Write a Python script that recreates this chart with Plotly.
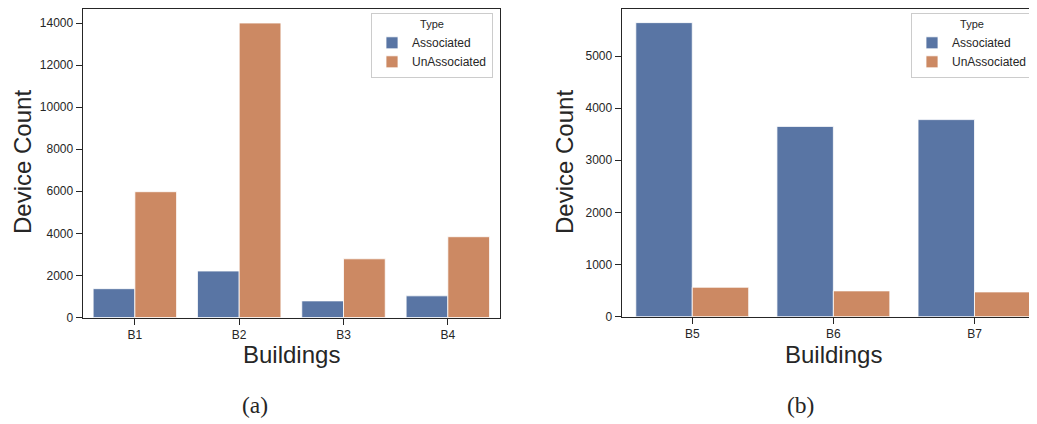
import plotly.graph_objects as go

# ---- data ----
buildings_a = ["B1", "B2", "B3", "B4"]
assoc_a = [1370, 2210, 790, 1030]
unassoc_a = [5980, 14000, 2790, 3840]

buildings_b = ["B5", "B6", "B7"]
assoc_b = [5640, 3650, 3780]
unassoc_b = [565, 495, 475]

series_names = ["Associated", "UnAssociated"]
colors = ["#5975A4", "#CC8963"]

# page body has an 8px margin; figure placed at (8,8)
OFF = 8
W, H = 1037 - OFF, 424 - OFF
def fx(p): return min(1.0, max(0.0, (p - OFF) / W))
def fy(p): return min(1.0, max(0.0, 1 - (p - OFF) / H))

FONT = "Liberation Sans"
SERIF = "Liberation Serif"
AX = "#262626"

def bar(x, y, i, xa, ya, leg):
    return go.Bar(x=x, y=y, name=series_names[i],
                  marker=dict(color=colors[i], line=dict(color="white", width=0.8)),
                  xaxis=xa, yaxis=ya, legend=leg)

fig = go.Figure()
fig.add_trace(bar(buildings_a, assoc_a, 0, "x", "y", "legend"))
fig.add_trace(bar(buildings_a, unassoc_a, 1, "x", "y", "legend"))
fig.add_trace(bar(buildings_b, assoc_b, 0, "x2", "y2", "legend2"))
fig.add_trace(bar(buildings_b, unassoc_b, 1, "x2", "y2", "legend2"))

axis_common = dict(showline=True, mirror=True, linecolor=AX, linewidth=1.25, ticks="outside",
                   ticklen=6, tickwidth=1.25, tickcolor=AX, showgrid=False, zeroline=False,
                   tickfont=dict(family=FONT, size=12, color=AX))

leg_common = dict(bgcolor="white", bordercolor="#CCCCCC", borderwidth=1,
                  font=dict(family=FONT, size=12, color=AX),
                  title=dict(text="Type", side="top center", font=dict(family=FONT, size=11, color=AX)),
                  yanchor="top", tracegroupgap=0, itemwidth=30)

fig.update_layout(
    width=W, height=H,
    margin=dict(l=0, r=0, t=0, b=0, autoexpand=False),
    plot_bgcolor="white", paper_bgcolor="white",
    barmode="group", bargap=0.2, bargroupgap=0,
    xaxis=dict(domain=[fx(82.7), fx(500)], range=[-0.5, 3.5], anchor="y", **axis_common),
    yaxis=dict(domain=[fy(317.5), fy(8.5)], range=[0, 14690], dtick=2000, tickformat="d", anchor="x", **axis_common),
    xaxis2=dict(domain=[fx(621.7), 1.0], range=[-0.5, 2.443], anchor="y2", **axis_common),
    yaxis2=dict(domain=[fy(316.7), fy(8.5)], range=[0, 5911], dtick=1000, tickformat="d", anchor="x2", **axis_common),
    legend=dict(x=fx(493), xanchor="right", y=fy(13), **leg_common),
    legend2=dict(x=fx(911), xanchor="left", y=fy(13), **leg_common),
    showlegend=True,
)

ann = []
def text(x, y, s, size, family=FONT, angle=0):
    ann.append(dict(x=fx(x), y=fy(y), xref="paper", yref="paper", text=s, showarrow=False,
                    xanchor="center", yanchor="middle", textangle=angle,
                    font=dict(family=family, size=size, color=AX)))

text(291, 354, "Buildings", 24)
text(833, 354, "Buildings", 24)
text(22, 162, "Device Count", 24, angle=-90)
text(564, 162, "Device Count", 24, angle=-90)
text(255, 405, "(a)", 23.5, family=SERIF)
text(800, 405, "(b)", 23.5, family=SERIF)
fig.update_layout(annotations=ann)

fig.write_html("out.html")
